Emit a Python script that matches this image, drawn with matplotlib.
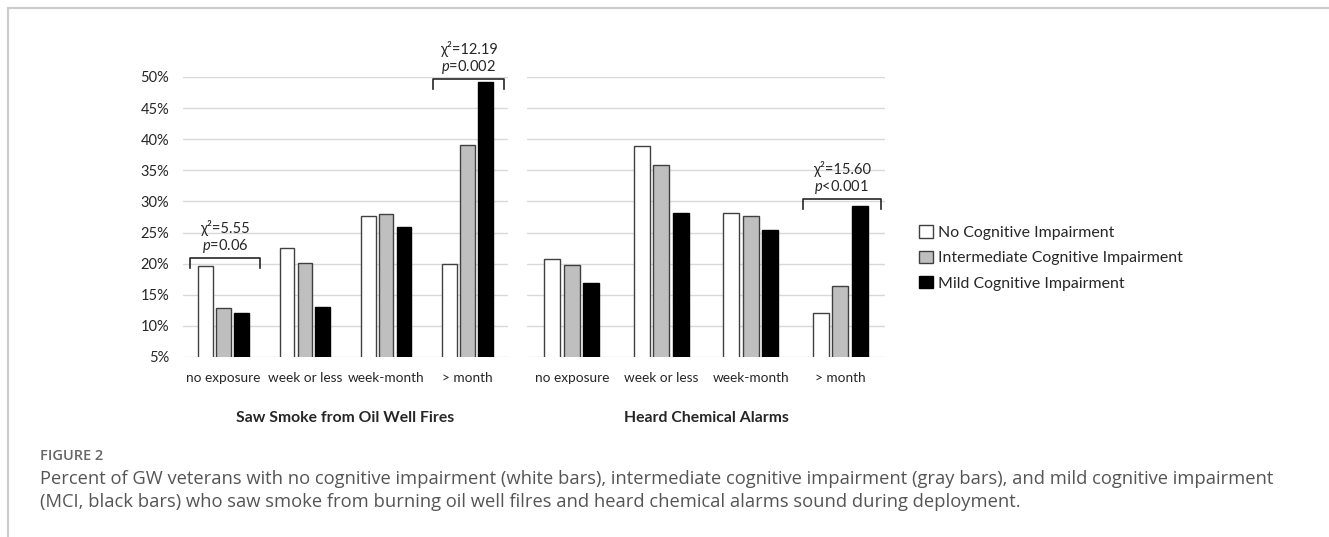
import numpy as np
import matplotlib
matplotlib.use("Agg")
import matplotlib.pyplot as plt
from matplotlib.patches import Patch
from matplotlib.lines import Line2D

categories = ["no exposure", "week or less", "week-month", "> month"]
series = ["No Cognitive Impairment", "Intermediate Cognitive Impairment", "Mild Cognitive Impairment"]

smoke_none = [19.7, 22.5, 27.6, 20.0]
smoke_inter = [12.9, 20.1, 28.0, 39.0]
smoke_mild = [12.0, 13.0, 25.9, 49.2]

alarm_none = [20.7, 38.9, 28.1, 12.0]
alarm_inter = [19.8, 35.8, 27.7, 16.4]
alarm_mild = [16.9, 28.2, 25.4, 29.2]

panel_titles = ["Saw Smoke from Oil Well Fires", "Heard Chemical Alarms"]
yticks = [5, 10, 15, 20, 25, 30, 35, 40, 45, 50]

# (category index, bracket top, chi2 text, p text)
smoke_tests = [(0, 20.9, "5.55", "=0.06"), (3, 49.7, "12.19", "=0.002")]
alarm_tests = [(3, 30.4, "15.60", "<0.001")]

caption_head = "FIGURE 2"
caption_lines = [
    "Percent of GW veterans with no cognitive impairment (white bars), intermediate cognitive impairment (gray bars), and mild cognitive impairment",
    "(MCI, black bars) who saw smoke from burning oil well filres and heard chemical alarms sound during deployment.",
]

FONT = "Lato"
plt.rcParams["font.family"] = [FONT, "DejaVu Sans"]
plt.rcParams["mathtext.fontset"] = "custom"
plt.rcParams["mathtext.it"] = FONT + ":italic"
plt.rcParams["mathtext.rm"] = FONT

W, H = 1329, 537
fig = plt.figure(figsize=(W / 100, H / 100), dpi=100)

fills = ["white", "#bfbfbf", "black"]
edges = ["#404040", "#404040", "black"]
txt = "#262626"


def px_axes(x0, x1, y0, y1):
    return fig.add_axes([x0 / W, 1 - y1 / H, (x1 - x0) / W, (y1 - y0) / H])


def panel(ax, data, tests, title):
    x = np.arange(len(categories))
    for i, vals in enumerate(data):
        ax.bar(x + (i - 1) * 0.22, vals, width=0.18, bottom=0, color=fills[i],
               edgecolor=edges[i], linewidth=1.0, zorder=3)
    ax.set_ylim(5, 50)
    ax.set_xlim(-0.5, len(categories) - 0.5)
    ax.set_yticks(yticks)
    for t in yticks:
        ax.axhline(t, color="#d9d9d9", linewidth=1.0, zorder=1)
    for s in ax.spines.values():
        s.set_visible(False)
    ax.tick_params(length=0)
    ax.set_xticks(x)
    ax.set_xticklabels(categories, fontsize=9.8, color=txt)
    ax.tick_params(axis="x", pad=11)
    for c, top, chi, p in tests:
        xl, xr = c - 0.42, c + 0.45
        ax.add_line(Line2D([xl, xl, xr, xr], [top - 1.6, top, top, top - 1.6],
                           color="#262626", linewidth=1.2, clip_on=False))
        xm = (xl + xr) / 2
        ax.text(xm, top + 1.9, "$\\it{p}$" + p, ha="center", va="center",
                fontsize=10.5, color=txt, clip_on=False)
        ax.text(xm, top + 4.8, "χ²=" + chi, ha="center", va="center",
                fontsize=10.5, color=txt, clip_on=False)
    ax.text(0.5, -0.218, title, transform=ax.transAxes, ha="center", va="center",
            fontsize=11.3, fontweight="bold", color=txt)


ax1 = px_axes(183, 508, 77, 357)
panel(ax1, [smoke_none, smoke_inter, smoke_mild], smoke_tests, panel_titles[0])
ax1.set_yticklabels([f"{t}%" for t in yticks], fontsize=10.5, color=txt)
ax1.tick_params(axis="y", pad=10)

ax2 = px_axes(527, 885, 77, 357)
panel(ax2, [alarm_none, alarm_inter, alarm_mild], alarm_tests, panel_titles[1])
ax2.set_yticklabels([])

handles = [Patch(facecolor=fills[i], edgecolor=edges[i], linewidth=1.0) for i in range(3)]
fig.legend(handles, series, loc="upper left", bbox_to_anchor=(913 / W, 1 - 219 / H),
           frameon=False, fontsize=11.4, handlelength=0.85, handleheight=0.85,
           handletextpad=0.3, labelspacing=0.66, labelcolor=txt, borderaxespad=0)

# page frame
fig.add_artist(Line2D([8 / W, 1], [1 - 8 / H, 1 - 8 / H], color="#cccccc", linewidth=1.5))
fig.add_artist(Line2D([8 / W, 8 / W], [0, 1 - 8 / H], color="#cccccc", linewidth=1.5))

cap_font = ["Open Sans", "DejaVu Sans"]
fig.text(40 / W, 1 - 456 / H, caption_head, fontsize=10.5, color="#666666",
         family=cap_font, fontweight="semibold", va="center")
for k, line in enumerate(caption_lines):
    fig.text(40 / W, 1 - (479 + 23 * k) / H, line, fontsize=13.2, color="#555555",
             family=cap_font, va="center")

fig.savefig("out.png", dpi=100, facecolor="white")
